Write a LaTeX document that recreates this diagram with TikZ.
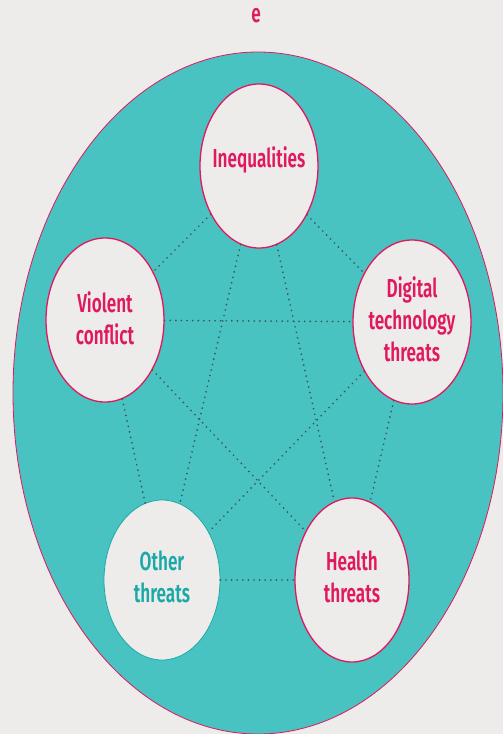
\documentclass[tikz,border=0pt]{standalone}
\usepackage{fontspec}
\setmainfont{Fira Sans SemiBold}[FakeStretch=0.66]
\usetikzlibrary{shapes.geometric}
\definecolor{paper}{HTML}{EDECEA}
\definecolor{lagoon}{HTML}{48C3C2}
\definecolor{rosered}{HTML}{E0195F}
\definecolor{deepteal}{HTML}{1BA8A8}
\definecolor{dotgray}{HTML}{3F5555}
\begin{document}
\begin{tikzpicture}[
        % pixel grid, y downwards
        x=1pt, y=-1pt,
        bubble/.style={ellipse, draw=rosered, line width=1.3pt, fill=paper,
            minimum width=118pt, minimum height=164pt, inner sep=0pt},
        greybubble/.style={bubble, draw=deepteal, line width=0.8pt},
        bubbletext/.style={align=center, text=rosered, font=\fontsize{26}{32}\selectfont, inner sep=0pt},
        link/.style={dotgray, line width=1.9pt, line cap=round, dash pattern=on 0pt off 5.6pt}
    ]

    % --- background ---
    \fill[paper] (0,0) rectangle (503,734);
    \useasboundingbox (0,0) rectangle (503,734);

    % --- big ellipse ---
    \filldraw[fill=lagoon, draw=rosered, line width=0.8pt] (258,393) ellipse [x radius=245, y radius=341];
    \node[bubbletext] (title) at (256,16) {e};

    % --- five bubbles ---
    \node[bubble] (ineq) at (259,166) {};
    \node[bubble] (viol) at (105,320) {};
    \node[bubble] (digi) at (412,322) {};
    \node[greybubble, minimum width=116pt, minimum height=160pt] (other) at (162,580) {};
    \node[bubble, minimum width=114pt] (health) at (352,580) {};

    % --- dotted links, every pair ---
    \foreach \a/\b in {ineq/viol, ineq/digi, viol/digi, viol/other, digi/health,
                       other/health, ineq/other, ineq/health, viol/health, digi/other}
        \draw[link] (\a) -- (\b);

    % --- labels ---
    \node[bubbletext] (ineqtext) at ([yshift=6pt]ineq) {Inequalities};
    \node[bubbletext] (violtext) at ([yshift=2pt]viol) {Violent\\conflict};
    \node[bubbletext] (digitext) at ([yshift=3pt]digi) {Digital\\technology\\threats};
    \node[bubbletext, text=deepteal] (othertext) at ([yshift=3pt]other) {Other\\threats};
    \node[bubbletext] (healthtext) at ([yshift=3pt]health) {Health\\threats};

\end{tikzpicture}
\end{document}
